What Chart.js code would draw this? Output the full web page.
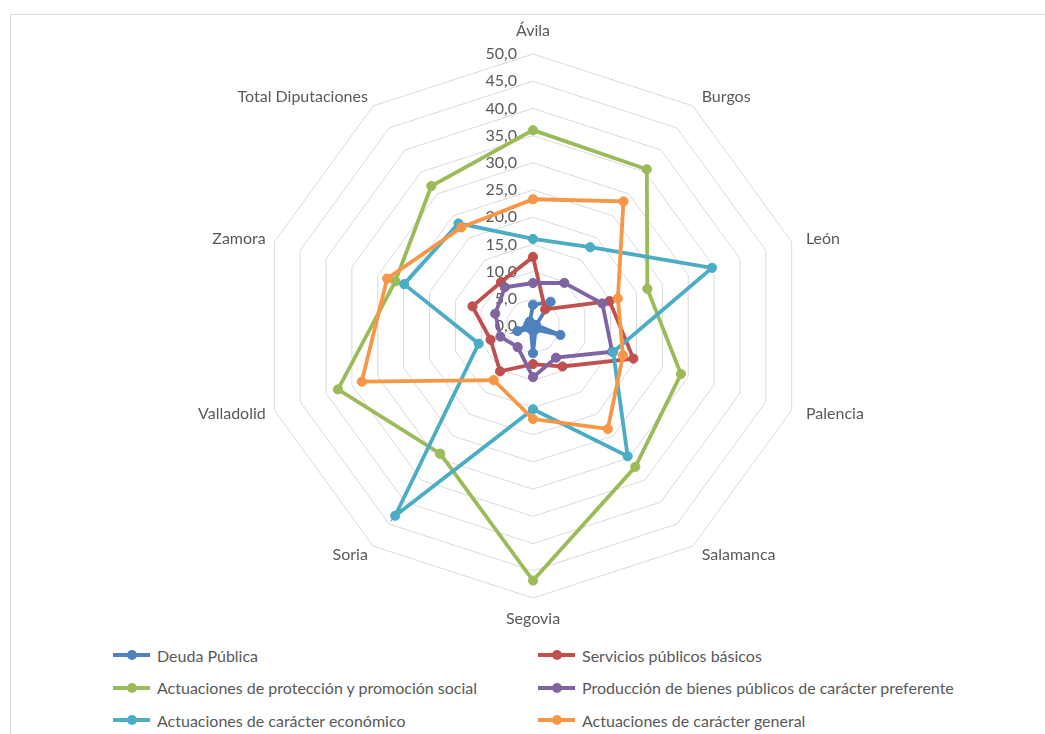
<!DOCTYPE html>
<html lang="es">
<head>
<meta charset="utf-8">
<title>Gasto por políticas - Diputaciones</title>
<script src="https://cdn.jsdelivr.net/npm/chart.js@4/dist/chart.umd.min.js"></script>
<style>
  html, body { margin: 0; padding: 0; background: #fff; overflow: hidden; }
  body { width: 1045px; height: 734px; position: relative; font-family: Lato, "Open Sans", sans-serif; }
  #frame { position: absolute; left: 10px; top: 14px; width: 1100px; height: 800px;
           border-top: 1px solid #d9d9d9; border-left: 1px solid #d9d9d9; }
  #chartBox { position: absolute; left: 0; top: 0; width: 1045px; height: 640px; }
  #legend { position: absolute; left: 113px; top: 643px; width: 900px;
            display: grid; grid-template-columns: 425px 475px; row-gap: 8.5px; }
  .item { display: flex; align-items: center; height: 24px; color: #595959; font-size: 16px; white-space: nowrap; }
  .mark { position: relative; width: 37px; height: 24px; margin-right: 7px; flex: none; }
  .mark .ln { position: absolute; left: 0; right: 0; top: 10px; height: 4px; }
  .mark .dot { position: absolute; left: 13.5px; top: 7px; width: 10px; height: 10px; border-radius: 50%; }
</style>
</head>
<body>
<div id="frame"></div>
<div id="chartBox"><canvas id="radarChart"></canvas></div>
<div id="legend"></div>
<script>
// Categorías (provincias)
const provincias = ["Ávila", "Burgos", "León", "Palencia", "Salamanca", "Segovia",
  "Soria", "Valladolid", "Zamora", "Total Diputaciones"]

// Valores (% del gasto) por política
const deudaPublica = [3.9, 5.5, 0.6, 5.3, 0.8, 5.0, 0.7, 3.0, 0.9, 1.0]
const serviciosBasicos = [12.7, 3.8, 14.8, 19.4, 9.2, 7.0, 10.3, 8.2, 11.7, 10.0]
const proteccionSocial = [36.0, 35.6, 22.1, 28.6, 32.0, 46.8, 29.0, 37.7, 26.6, 31.8]
const bienesPreferentes = [7.9, 9.8, 13.4, 15.3, 7.2, 9.4, 4.8, 6.3, 7.3, 8.8]
const caracterEconomico = [16.0, 17.9, 34.6, 15.5, 29.6, 15.3, 43.1, 10.5, 24.9, 23.3]
const caracterGeneral = [23.3, 28.3, 16.4, 17.4, 23.4, 17.1, 12.3, 33.1, 28.2, 22.4]

// Escala radial
const tickValues = [0, 5, 10, 15, 20, 25, 30, 35, 40, 45, 50]

const series = [
  { label: "Deuda Pública", data: deudaPublica, color: "#4F81BD" },
  { label: "Servicios públicos básicos", data: serviciosBasicos, color: "#C0504D" },
  { label: "Actuaciones de protección y promoción social", data: proteccionSocial, color: "#9BBB59" },
  { label: "Producción de bienes públicos de carácter preferente", data: bienesPreferentes, color: "#8064A2" },
  { label: "Actuaciones de carácter económico", data: caracterEconomico, color: "#4BACC6" },
  { label: "Actuaciones de carácter general", data: caracterGeneral, color: "#F79646" },
]

const fmt = (v) => v.toFixed(1).replace(".", ",")
const textFont = "16px Lato"
const textColor = "#595959"

// tick labels left of the vertical axis, like Excel
const tickLabelPlugin = {
  id: "tickLabels",
  beforeDatasetsDraw(chart) {
    const scale = chart.scales.r
    const ctx = chart.ctx
    ctx.save()
    ctx.font = textFont
    ctx.fillStyle = textColor
    ctx.textAlign = "right"
    ctx.textBaseline = "middle"
    tickValues.forEach((v) => {
      const d = scale.getDistanceFromCenterForValue(v)
      ctx.fillText(fmt(v), scale.xCenter - 16, scale.yCenter - d)
    })
    ctx.restore()
  },
}

// category labels, vertically centred on their spoke (Excel style)
const categoryLabelPlugin = {
  id: "categoryLabels",
  afterDraw(chart) {
    const scale = chart.scales.r
    const ctx = chart.ctx
    const R = scale.drawingArea
    ctx.save()
    ctx.font = textFont
    ctx.fillStyle = textColor
    ctx.textBaseline = "middle"
    chart.data.labels.forEach((label, i) => {
      const a = scale.getIndexAngle(i)
      const s = Math.sin(a)
      let x = scale.getPointPosition(i, R + (s > 0 ? 15 : 9)).x
      let y = scale.getPointPosition(i, R + 11).y
      if (Math.abs(s) < 0.01) {
        ctx.textAlign = "center"
        y = scale.yCenter + (Math.cos(a) > 0 ? -(R + 23) : R + 21)
      } else {
        ctx.textAlign = s > 0 ? "left" : "right"
      }
      ctx.fillText(label, x, y)
    })
    ctx.restore()
  },
}

const ctx = document.getElementById("radarChart").getContext("2d")
const chart = new Chart(ctx, {
  type: "radar",
  data: {
    labels: provincias,
    datasets: series.map((s, i) => ({
      label: s.label,
      data: s.data,
      borderColor: s.color,
      backgroundColor: s.color,
      pointBackgroundColor: s.color,
      pointBorderColor: s.color,
      borderWidth: 3.8,
      pointRadius: 4.6,
      pointBorderWidth: 1,
      fill: false,
      tension: 0,
      order: series.length - i,
    })),
  },
  options: {
    responsive: true,
    maintainAspectRatio: false,
    animation: false,
    layout: { padding: { left: 21, right: 0, top: 54, bottom: 42 } },
    plugins: {
      legend: { display: false },
      tooltip: { enabled: false },
    },
    scales: {
      r: {
        min: 0,
        max: 50,
        ticks: { stepSize: 5, display: false },
        angleLines: { display: false },
        grid: { color: "#d9d9d9", lineWidth: 1, circular: false },
        pointLabels: { display: false },
      },
    },
  },
  plugins: [tickLabelPlugin, categoryLabelPlugin],
})

// HTML legend in two columns
const legendEl = document.getElementById("legend")
chart.data.datasets.forEach((ds) => {
  const item = document.createElement("div")
  item.className = "item"
  item.innerHTML = `<span class="mark"><span class="ln" style="background:${ds.borderColor}"></span>` +
    `<span class="dot" style="background:${ds.borderColor}"></span></span><span>${ds.label}</span>`
  legendEl.appendChild(item)
})
</script>
</body>
</html>
